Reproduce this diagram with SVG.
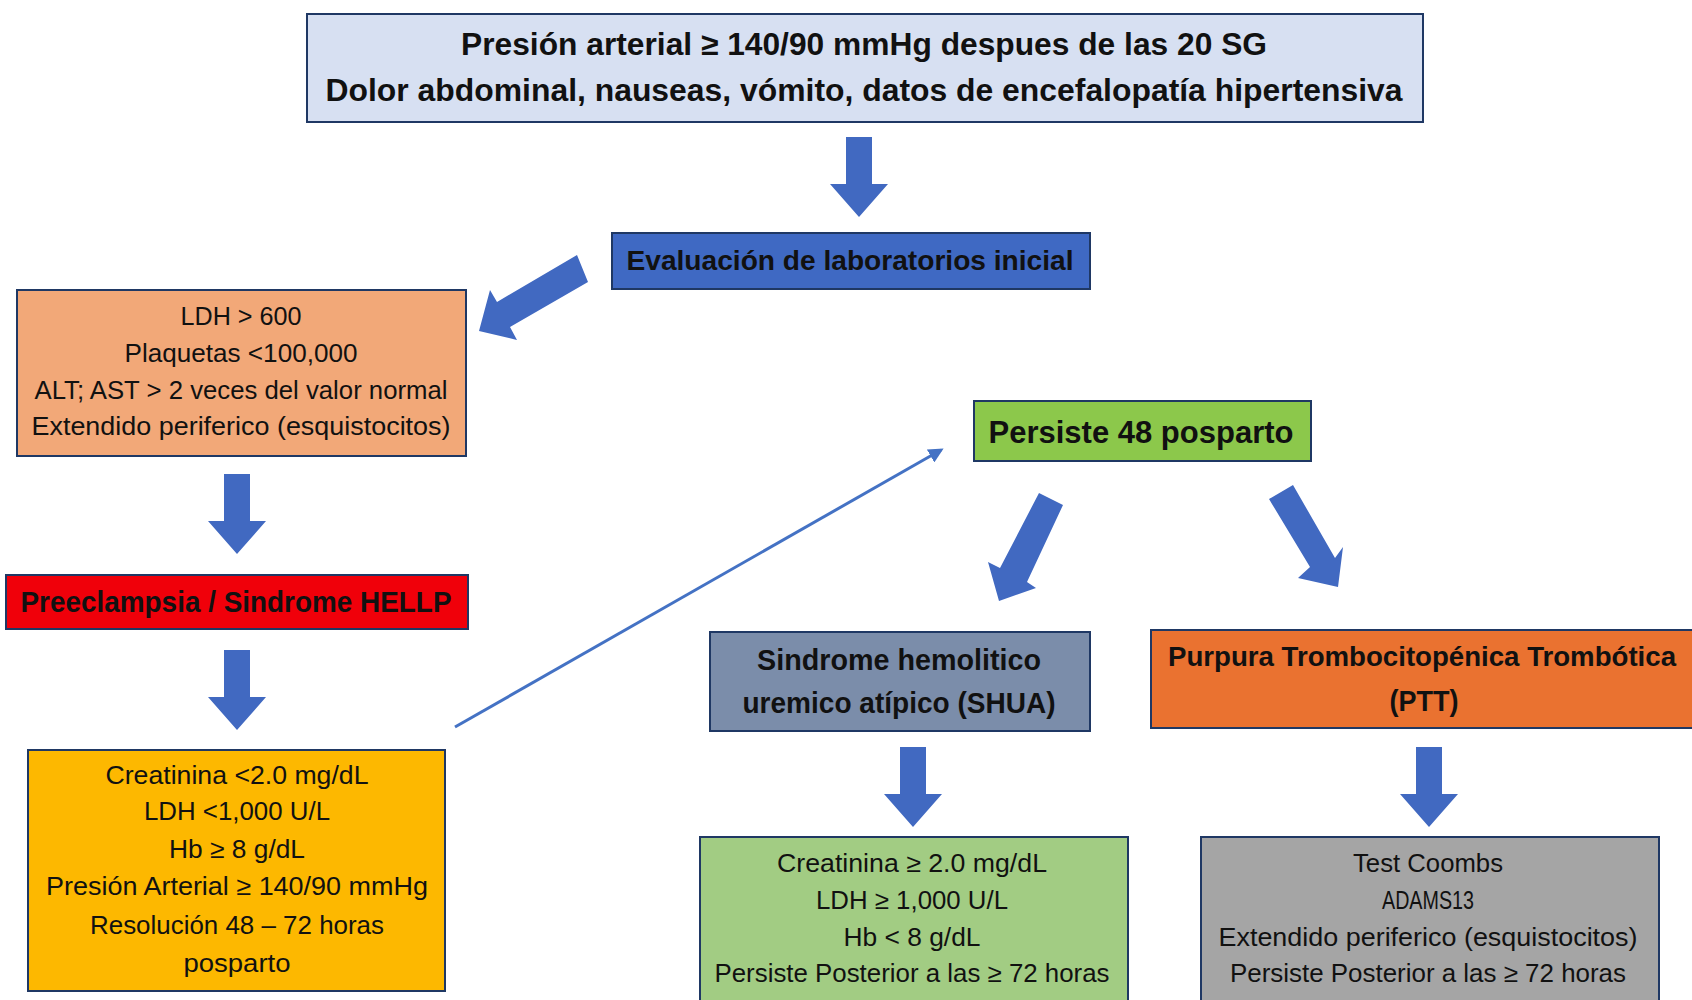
<svg xmlns="http://www.w3.org/2000/svg" xmlns:xlink="http://www.w3.org/1999/xlink" width="1692" height="1000" viewBox="0 0 1692 1000">
<style>
.box{stroke:#1F3864;stroke-width:2}
text{font-family:"Liberation Sans",Arial,sans-serif;fill:#111;text-anchor:middle}
.b{font-weight:bold}
.r{font-size:26px}
.blk{fill:#4169C1}
</style>
<defs>
<path id="down" d="M-13,0 H13 V47 H29 L0,80 L-29,47 H-13 Z" class="blk"/>
<marker id="tip" viewBox="0 0 10 10" refX="8" refY="5" markerWidth="5" markerHeight="5" orient="auto">
<path d="M0,0 L10,5 L0,10 Z" fill="#4472C4"/>
</marker>
</defs>
<rect width="1692" height="1000" fill="#fff"/>

<g id="top">
<rect class="box" x="307" y="14" width="1116" height="108" fill="#D7E0F2"/>
<text class="b" x="864" y="55" font-size="31" textLength="806" lengthAdjust="spacingAndGlyphs">Presión arterial ≥ 140/90 mmHg despues de las 20 SG</text>
<text class="b" x="864" y="101" font-size="31" textLength="1077" lengthAdjust="spacingAndGlyphs">Dolor abdominal, nauseas, vómito, datos de encefalopatía hipertensiva</text>
</g>

<g id="evaluacion">
<rect class="box" x="612" y="233" width="478" height="56" fill="#3F69C3"/>
<text class="b" x="850" y="270" font-size="28" textLength="447" lengthAdjust="spacingAndGlyphs">Evaluación de laboratorios inicial</text>
</g>

<g id="ldh">
<rect class="box" x="17" y="290" width="449" height="166" fill="#F2A878"/>
<text class="r" x="241" y="325" textLength="121" lengthAdjust="spacingAndGlyphs">LDH &gt; 600</text>
<text class="r" x="241" y="362" textLength="233" lengthAdjust="spacingAndGlyphs">Plaquetas &lt;100,000</text>
<text class="r" x="241" y="399" textLength="413" lengthAdjust="spacingAndGlyphs">ALT; AST &gt; 2 veces del valor normal</text>
<text class="r" x="241" y="435" textLength="419" lengthAdjust="spacingAndGlyphs">Extendido periferico (esquistocitos)</text>
</g>

<g id="preeclampsia">
<rect class="box" x="6" y="575" width="462" height="54" fill="#F0000A"/>
<text class="b" x="236" y="612" font-size="29" textLength="431" lengthAdjust="spacingAndGlyphs">Preeclampsia / Sindrome HELLP</text>
</g>

<g id="resolucion">
<rect class="box" x="28" y="750" width="417" height="241" fill="#FDB800"/>
<text class="r" x="237" y="784" textLength="263" lengthAdjust="spacingAndGlyphs">Creatinina &lt;2.0 mg/dL</text>
<text class="r" x="237" y="820" textLength="186" lengthAdjust="spacingAndGlyphs">LDH &lt;1,000 U/L</text>
<text class="r" x="237" y="858" textLength="136" lengthAdjust="spacingAndGlyphs">Hb ≥ 8 g/dL</text>
<text class="r" x="237" y="895" textLength="382" lengthAdjust="spacingAndGlyphs">Presión Arterial ≥ 140/90 mmHg</text>
<text class="r" x="237" y="934" textLength="294" lengthAdjust="spacingAndGlyphs">Resolución 48 – 72 horas</text>
<text class="r" x="237" y="972" textLength="107" lengthAdjust="spacingAndGlyphs">posparto</text>
</g>

<g id="persiste">
<rect class="box" x="974" y="401" width="337" height="60" fill="#8CC84B"/>
<text class="b" x="1141" y="443" font-size="32" textLength="305" lengthAdjust="spacingAndGlyphs">Persiste 48 posparto</text>
</g>

<g id="shua">
<rect class="box" x="710" y="632" width="380" height="99" fill="#7B8DAA"/>
<text class="b" x="899" y="670" font-size="29" textLength="284" lengthAdjust="spacingAndGlyphs">Sindrome hemolitico</text>
<text class="b" x="899" y="713" font-size="29" textLength="313" lengthAdjust="spacingAndGlyphs">uremico atípico (SHUA)</text>
</g>

<g id="ptt">
<rect class="box" x="1151" y="630" width="542" height="98" fill="#EA7230"/>
<text class="b" x="1422" y="666" font-size="27" textLength="508" lengthAdjust="spacingAndGlyphs">Purpura Trombocitopénica Trombótica</text>
<text class="b" x="1424" y="711" font-size="29" textLength="69" lengthAdjust="spacingAndGlyphs">(PTT)</text>
</g>

<g id="shua-labs">
<rect class="box" x="700" y="837" width="428" height="180" fill="#A2CC83"/>
<text class="r" x="912" y="872" textLength="270" lengthAdjust="spacingAndGlyphs">Creatinina ≥ 2.0 mg/dL</text>
<text class="r" x="912" y="909" textLength="192" lengthAdjust="spacingAndGlyphs">LDH ≥ 1,000 U/L</text>
<text class="r" x="912" y="946" textLength="137" lengthAdjust="spacingAndGlyphs">Hb &lt; 8 g/dL</text>
<text class="r" x="912" y="982" textLength="395" lengthAdjust="spacingAndGlyphs">Persiste Posterior a las ≥ 72 horas</text>
</g>

<g id="ptt-labs">
<rect class="box" x="1201" y="837" width="458" height="180" fill="#A5A5A5"/>
<text class="r" x="1428" y="872" textLength="150" lengthAdjust="spacingAndGlyphs">Test Coombs</text>
<text class="r" x="1428" y="909" textLength="92" lengthAdjust="spacingAndGlyphs">ADAMS13</text>
<text class="r" x="1428" y="946" textLength="419" lengthAdjust="spacingAndGlyphs">Extendido periferico (esquistocitos)</text>
<text class="r" x="1428" y="982" textLength="396" lengthAdjust="spacingAndGlyphs">Persiste Posterior a las ≥ 72 horas</text>
</g>

<g id="connectors">
<use xlink:href="#down" href="#down" x="859" y="137"/>
<use xlink:href="#down" href="#down" x="237" y="474"/>
<use xlink:href="#down" href="#down" x="237" y="650"/>
<use xlink:href="#down" href="#down" x="913" y="747"/>
<use xlink:href="#down" href="#down" x="1429" y="747"/>
<path class="blk" d="M577,255 L588,282 L510,327 L517,340 L479,331 L490,290 L497,302 Z"/>
<path class="blk" d="M1039,493 L1063,505 L1027,582 L1036,588 L999,601 L988,562 L1000,568 Z"/>
<path class="blk" d="M1269,499 L1293,485 L1335,558 L1343,547 L1338,587 L1298,578 L1310,567 Z"/>
<line x1="455" y1="727" x2="941" y2="450" stroke="#4472C4" stroke-width="3" marker-end="url(#tip)"/>
</g>
</svg>
